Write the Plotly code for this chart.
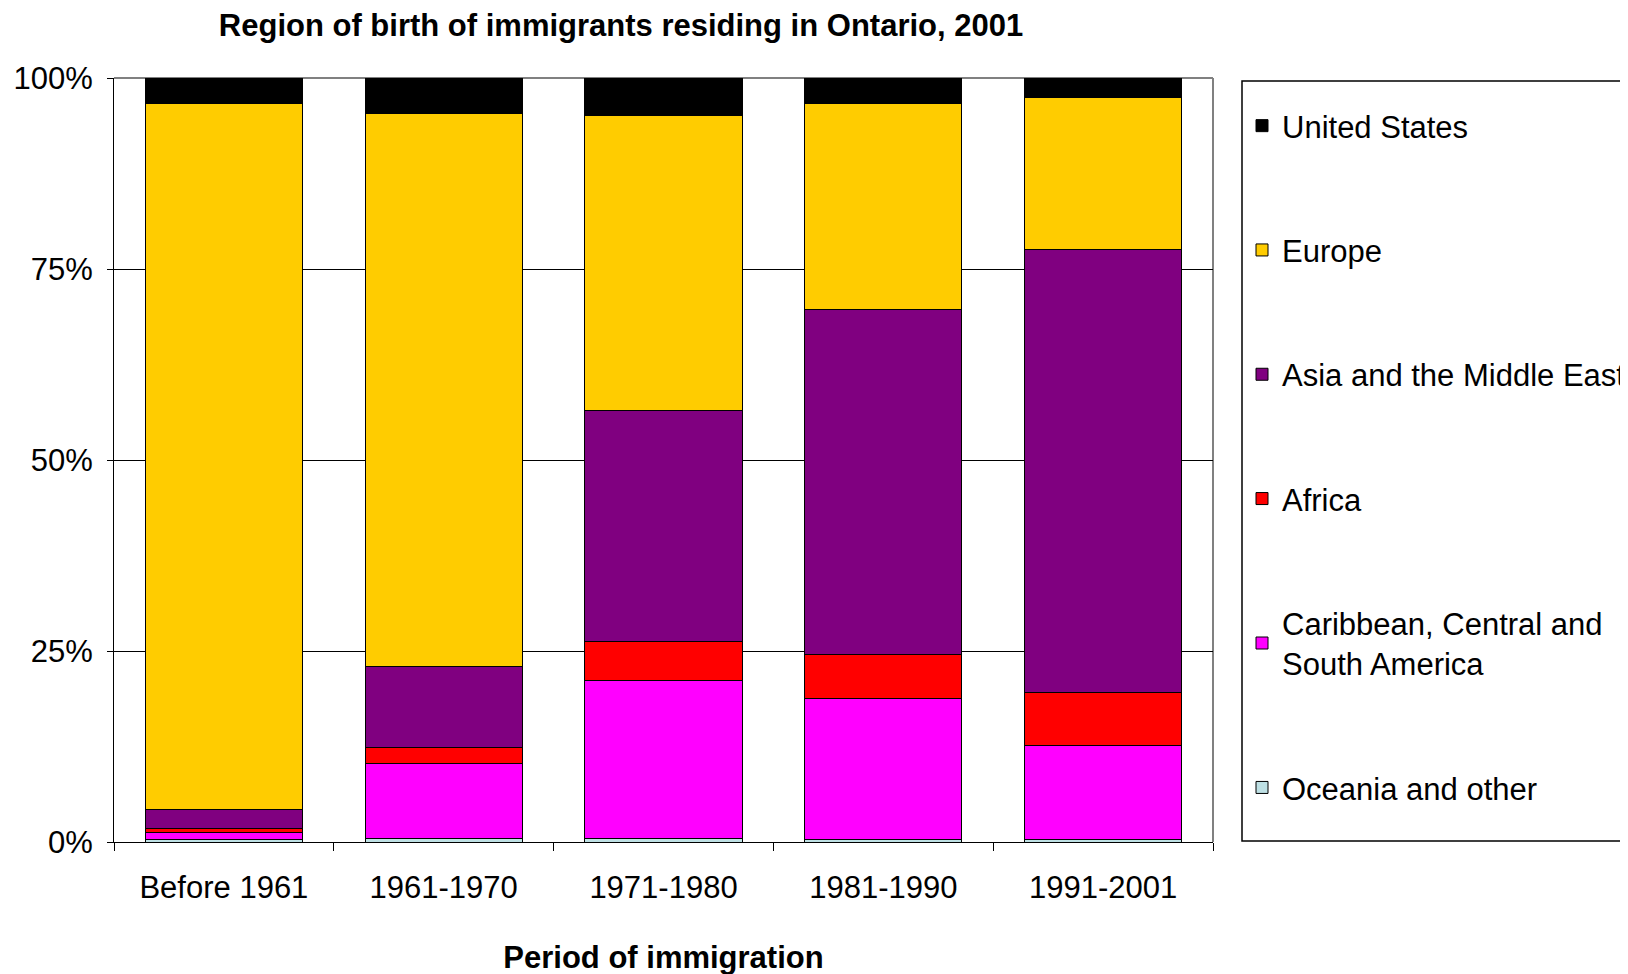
import plotly.graph_objects as go

periods = ["Before 1961", "1961-1970", "1971-1980", "1981-1990", "1991-2001"]

oceania = [0.3, 0.5, 0.5, 0.3, 0.3]
caribbean = [1.0, 9.8, 20.6, 18.45, 12.3]
africa = [0.5, 2.1, 5.1, 5.75, 7.0]
asia = [2.4, 10.6, 30.3, 45.2, 58.0]
europe = [92.5, 72.4, 38.6, 27.0, 19.8]
united_states = [3.3, 4.6, 4.9, 3.3, 2.6]

y_ticks = [0, 25, 50, 75, 100]
y_tick_labels = ["0%", "25%", "50%", "75%", "100%"]

series = [
    ("Oceania and other", oceania, "#BEE0E4"),
    ("Caribbean, Central and<br>South America", caribbean, "#FF00FF"),
    ("Africa", africa, "#FF0000"),
    ("Asia and the Middle East", asia, "#800080"),
    ("Europe", europe, "#FFCC00"),
    ("United States", united_states, "#000000"),
]

FONT = "Liberation Sans, Arial, sans-serif"
FS = 31

fig = go.Figure()
n = len(series)
for i, (name, vals, col) in enumerate(series):
    fig.add_trace(go.Bar(
        x=periods, y=vals, name=name,
        marker=dict(color=col, line=dict(color="#000000", width=1)),
        legendgroup=f"g{i}", legendrank=n - i,
    ))

W, H = 1628, 974
# figure coordinates (page is offset by 8px body margin)
L, R, T, B = 106, 1205, 70, 834
PW, PH = R - L, B - T

fig.update_layout(
    width=W, height=H,
    barmode="stack", bargap=0.285,
    paper_bgcolor="white", plot_bgcolor="white",
    margin=dict(l=L, r=W - R, t=T, b=H - B, autoexpand=False),
    font=dict(family=FONT, size=FS, color="black"),
    title=dict(text="<b>Region of birth of immigrants residing in Ontario, 2001</b>",
               x=(613 - L) / PW, xref="paper", xanchor="center",
               y=1 - 17 / H, yref="container", yanchor="middle",
               font=dict(size=FS, family=FONT)),
    legend=dict(x=(1234 - L) / PW, xanchor="left", y=1 - 21 / PH, yanchor="top",
                traceorder="grouped", tracegroupgap=81,
                font=dict(size=FS, family=FONT), bgcolor="rgba(0,0,0,0)"),
    showlegend=True,
)

fig.update_xaxes(
    showline=True, linecolor="black", linewidth=1,
    ticks="outside", tickson="boundaries", ticklen=8, tickcolor="black",
    ticklabelstandoff=18,
    title=dict(text="<b>Period of immigration</b>", standoff=42, font=dict(size=FS)),
    showgrid=False,
)
fig.update_yaxes(
    range=[0, 100], tickmode="array", tickvals=y_ticks, ticktext=y_tick_labels,
    showline=True, linecolor="black", linewidth=1,
    ticks="outside", ticklen=6, tickcolor="black", ticklabelstandoff=8,
    showgrid=True, gridcolor="black", gridwidth=1, zeroline=False,
)

# grey top and right plot border
fig.add_shape(type="line", xref="paper", yref="paper", x0=0, x1=1, y0=1, y1=1,
              line=dict(color="#808080", width=2), layer="between")
fig.add_shape(type="line", xref="paper", yref="paper", x0=1, x1=1, y0=0, y1=1,
              line=dict(color="#808080", width=2), layer="between")
# legend box
fig.add_shape(type="rect", xref="paper", yref="paper",
              x0=(1234 - L) / PW, x1=(1700 - L) / PW,
              y0=(B - 833) / PH, y1=(B - 73) / PH,
              line=dict(color="black", width=1.5), fillcolor="rgba(0,0,0,0)")

fig.write_html("out.html")
